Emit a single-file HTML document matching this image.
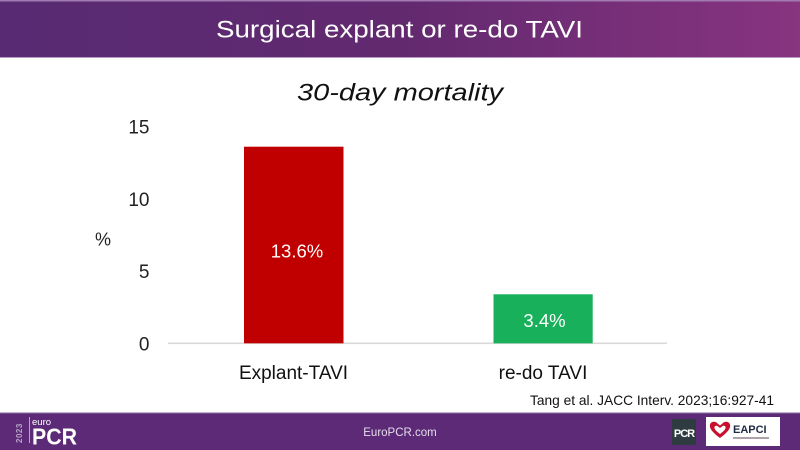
<!DOCTYPE html>
<html>
<head>
<meta charset="utf-8">
<style>
  html,body{margin:0;padding:0;background:#fff;}
  body{width:800px;height:450px;overflow:hidden;}
  svg{display:block;}
  text{font-family:"Liberation Sans",Arial,sans-serif;}
</style>
</head>
<body>
<svg width="800" height="450" viewBox="0 0 800 450" xmlns="http://www.w3.org/2000/svg">
  <defs>
    <linearGradient id="hg" x1="0" y1="0" x2="1" y2="0">
      <stop offset="0" stop-color="#572a73"/>
      <stop offset="0.5" stop-color="#62296f"/>
      <stop offset="1" stop-color="#88347f"/>
    </linearGradient>
  </defs>
  <rect x="0" y="0" width="800" height="450" fill="#ffffff"/>
  <!-- header -->
  <rect x="0" y="0" width="800" height="58" fill="url(#hg)"/>
  <rect x="0" y="0" width="800" height="1.5" fill="#a07ab0"/>
  <rect x="0" y="57" width="800" height="1" fill="#b89ac4"/>
  <text x="216" y="37.5" font-size="24" fill="#ffffff" textLength="367" lengthAdjust="spacingAndGlyphs">Surgical explant or re-do TAVI</text>

  <!-- chart title -->
  <text x="297" y="100.5" font-size="24" font-style="italic" fill="#111" textLength="206" lengthAdjust="spacingAndGlyphs">30-day mortality</text>

  <!-- y axis labels -->
  <g font-size="19" fill="#222" text-anchor="end">
    <text x="149.5" y="133.5">15</text>
    <text x="149.5" y="206">10</text>
    <text x="149.5" y="278">5</text>
    <text x="149.5" y="350.5">0</text>
  </g>
  <text x="95" y="245.5" font-size="18" fill="#222">%</text>

  <!-- axis line -->
  <rect x="168" y="342.5" width="499" height="1.6" fill="#d9d9d9"/>

  <!-- bars -->
  <rect x="244" y="146.7" width="99.5" height="196.6" fill="#c00000"/>
  <rect x="493.5" y="294.3" width="99.2" height="49" fill="#18b05a"/>

  <text x="297" y="257.5" font-size="18.5" fill="#ffffff" text-anchor="middle">13.6%</text>
  <text x="544.5" y="327" font-size="18.5" fill="#ffffff" text-anchor="middle">3.4%</text>

  <!-- category labels -->
  <text x="293.5" y="379" font-size="19" fill="#111" text-anchor="middle">Explant-TAVI</text>
  <text x="543" y="379" font-size="19" fill="#111" text-anchor="middle">re-do TAVI</text>

  <!-- citation -->
  <text x="530" y="405" font-size="14" fill="#111" textLength="244" lengthAdjust="spacingAndGlyphs">Tang et al. JACC Interv. 2023;16:927-41</text>

  <!-- footer -->
  <rect x="0" y="413" width="800" height="37" fill="#5c2a76"/>
  <rect x="0" y="412.5" width="800" height="1" fill="#8a6aa0"/>
  <text x="400" y="436" font-size="11.5" fill="#e6dcec" text-anchor="middle">EuroPCR.com</text>

  <!-- left logo -->
  <text transform="translate(22,443) rotate(-90)" font-size="8" font-weight="bold" fill="#b9a6c8" letter-spacing="0.5">2023</text>
  <rect x="29" y="417" width="1" height="26" fill="#b9a6c8"/>
  <text x="32" y="425" font-size="9.5" fill="#ffffff">euro</text>
  <text x="32" y="444.5" font-size="23" font-weight="bold" fill="#ffffff" textLength="45" lengthAdjust="spacingAndGlyphs">PCR</text>

  <!-- right logos -->
  <rect x="672" y="419" width="24" height="26" fill="#2e3b40"/>
  <text x="684" y="437" font-size="11" font-weight="bold" fill="#ffffff" text-anchor="middle" letter-spacing="-1">PCR</text>
  <rect x="706" y="417" width="74" height="29" fill="#ffffff"/>
  <path d="M720 438 C712 432 709 428 710 424.5 C711 421.5 715 421 717 423 L720 425.5 L723 423 C725 421 729 421.5 730 424.5 C731 428 728 432 720 438 Z" fill="#c8102e"/>
  <path d="M720 434 C716 431 714 429 714.5 427 C715 425.5 717 425.5 718 426.5 L720 428 L722 426.5 C723 425.5 725 425.5 725.5 427 C726 429 724 431 720 434 Z" fill="#ffffff"/>
  <text x="733" y="433" font-size="11" font-weight="bold" fill="#1f2a44">EAPCI</text>
  <rect x="733" y="437" width="36" height="2" fill="#b0a0a8"/>
</svg>
</body>
</html>
